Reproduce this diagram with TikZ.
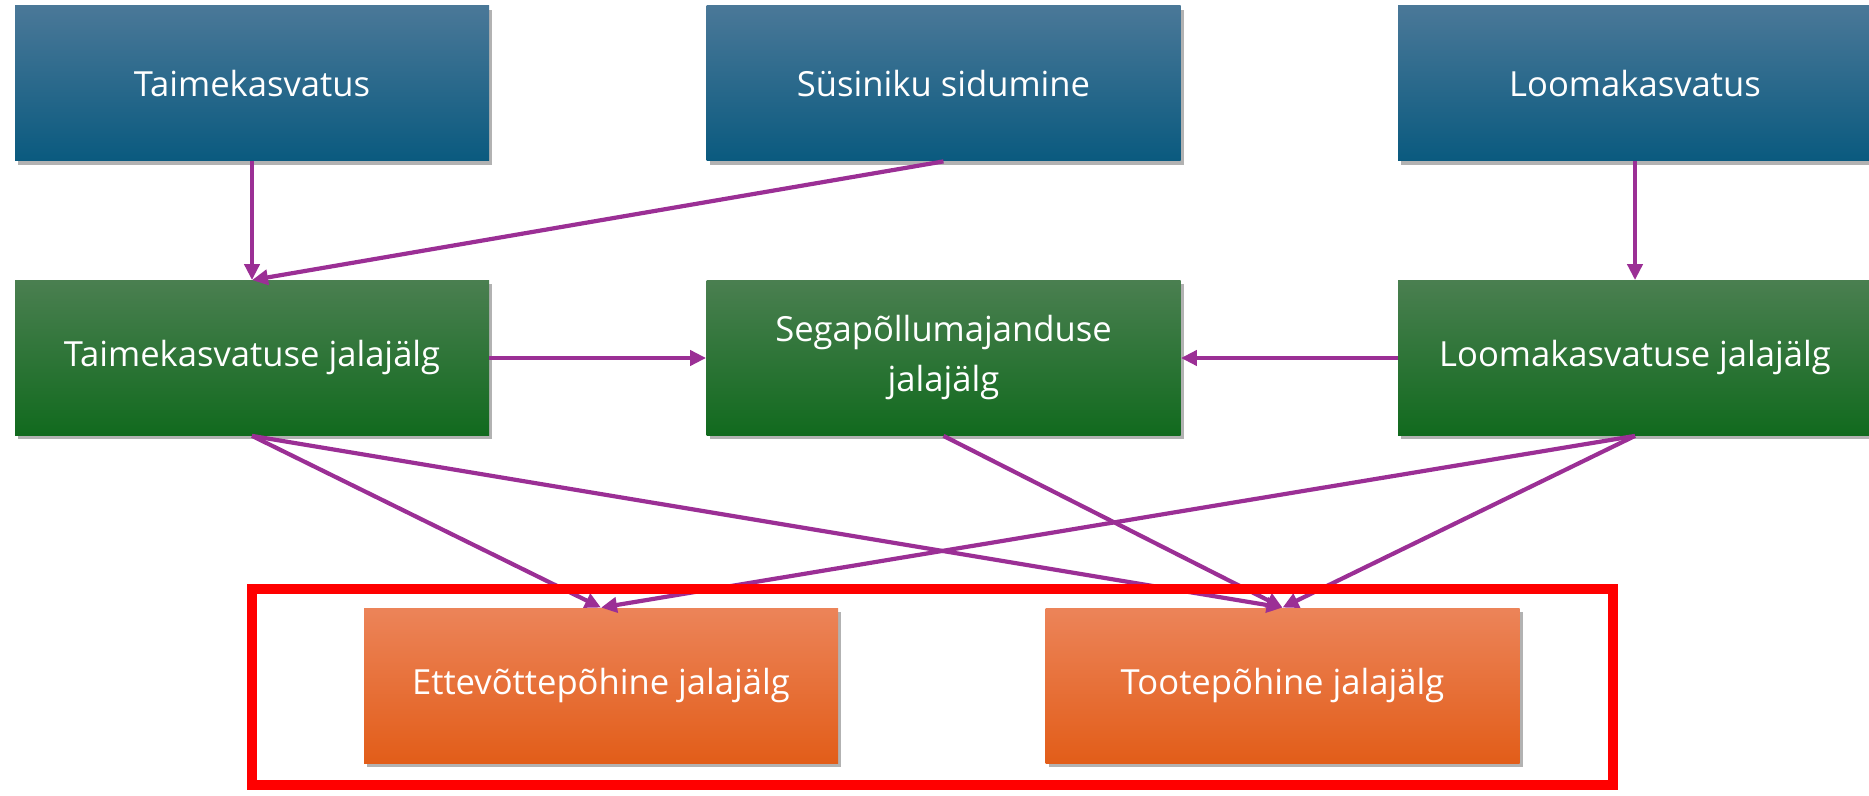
\documentclass[tikz,border=0pt]{standalone}
\usepackage{fontspec}
\setmainfont{Open Sans}
\usetikzlibrary{arrows.meta,shadows}
\definecolor{arr}{HTML}{9B2F95}
\definecolor{blueT}{HTML}{4A7898}
\definecolor{blueB}{HTML}{0A5A7F}
\definecolor{greenT}{HTML}{4A7F50}
\definecolor{greenB}{HTML}{116A1E}
\definecolor{orT}{HTML}{EC8459}
\definecolor{orB}{HTML}{E25D19}
\tikzset{
  box/.style={rectangle, minimum width=237pt, minimum height=77.5pt, inner sep=0pt,
    text=white, font=\fontsize{17.3}{25}\selectfont, align=center,
    drop shadow={shadow xshift=1.5pt, shadow yshift=-2pt, opacity=0.3, fill=black}},
  bluebox/.style={box, top color=blueT, bottom color=blueB},
  greenbox/.style={box, top color=greenT, bottom color=greenB},
  orangebox/.style={box, top color=orT, bottom color=orB},
  conn/.style={draw=arr, line width=2.1pt, -{Triangle[length=8pt,width=7.5pt]}},
}
\begin{document}
\begin{tikzpicture}[x=0.5pt,y=-0.5pt]
\useasboundingbox (0,0) rectangle (1869,796);
\node[bluebox] (t1) at (252,83.5) {Taimekasvatus};
\node[bluebox] (s1) at (943.5,83.5) {Süsiniku sidumine};
\node[bluebox] (l1) at (1635,83.5) {Loomakasvatus};
\node[greenbox] (t2) at (252,358) {Taimekasvatuse jalajälg};
\node[greenbox] (s2) at (943.5,358) {Segapõllumajanduse\\jalajälg};
\node[greenbox] (l2) at (1635,358) {Loomakasvatuse jalajälg};
\node[orangebox] (e3) at (601,685.5) {Ettevõttepõhine jalajälg};
\node[orangebox] (p3) at (1282.5,685.5) {Tootepõhine jalajälg};
\draw[conn] (t1.south) -- (t2.north);
\draw[conn] (s1.south) -- (t2.north);
\draw[conn] (l1.south) -- (l2.north);
\draw[conn] (t2.east) -- (s2.west);
\draw[conn] (l2.west) -- (s2.east);
\draw[conn] (t2.south) -- (e3.north);
\draw[conn] (t2.south) -- (p3.north);
\draw[conn] (s2.south) -- (p3.north);
\draw[conn] (l2.south) -- (e3.north);
\draw[conn] (l2.south) -- (p3.north);
\coordinate (rA) at (252,589);
\coordinate (rB) at (1613,785);
\draw[red, line width=5pt] (rA) rectangle (rB);
\end{tikzpicture}
\end{document}
